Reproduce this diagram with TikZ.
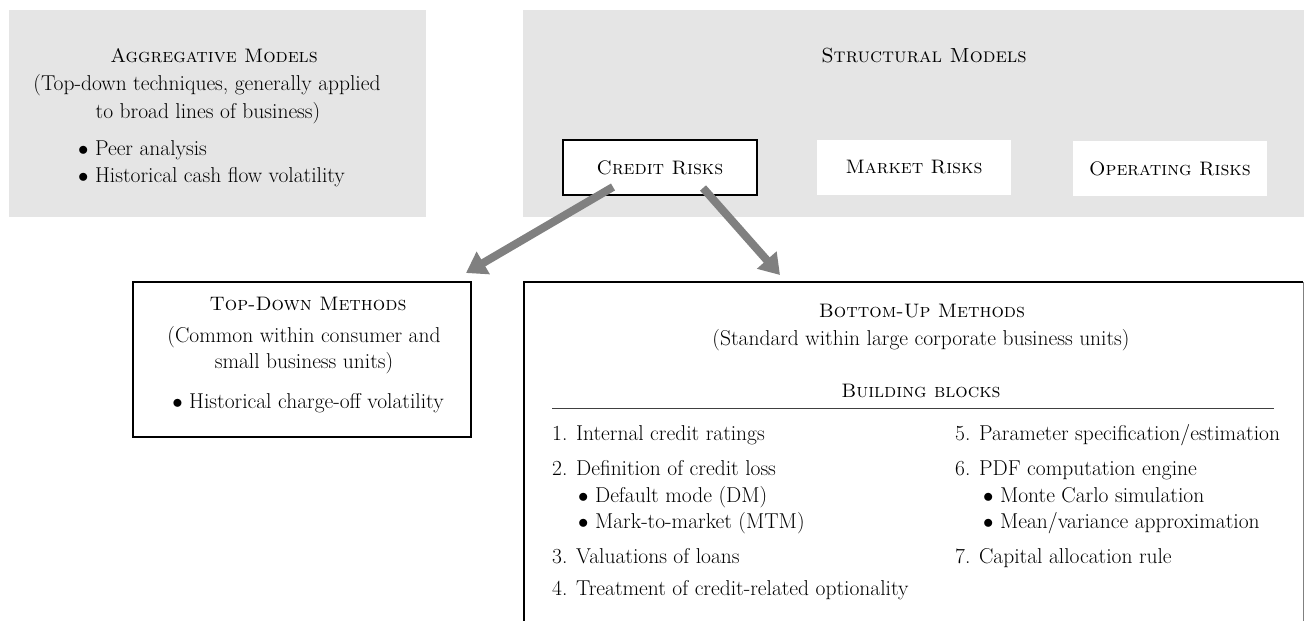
\documentclass[tikz,border=0pt]{standalone}
\usetikzlibrary{arrows.meta}
\definecolor{panelgray}{HTML}{E5E5E5}
\definecolor{arrowgray}{HTML}{808080}
\newcommand{\bodyfont}{\fontsize{21.5}{26}\selectfont}
\newcommand{\capfont}{\fontsize{19.5}{24}\selectfont\scshape}
\tikzset{
  panel/.style={fill=panelgray, draw=none},
  riskbox/.style={fill=white, draw=none, minimum width=194pt, minimum height=55pt, inner sep=0pt, font=\capfont},
  framed/.style={draw=black, line width=1.6pt},
  txt/.style={anchor=base, inner sep=0pt, font=\bodyfont},
  ltxt/.style={anchor=base west, inner sep=0pt, font=\bodyfont},
  sctxt/.style={anchor=base, inner sep=0pt, font=\capfont},
  bigarrow/.style={draw=arrowgray, line width=8pt, -{Triangle[length=20pt,width=25pt]}},
}
\begin{document}
\begin{tikzpicture}[x=1pt,y=-1pt]
\useasboundingbox (0,0) rectangle (1304,621);
% panels
\fill[panel] (9,10) rectangle (426,217);
\fill[panel] (523,10) rectangle (1304,217);
% aggregative text
\node[sctxt] (aggT) at (214,62) {Aggregative Models};
\node[txt] (aggS1) at (207,90) {(Top-down techniques, generally applied};
\node[txt] (aggS2) at (208,118) {to broad lines of business)};
\node[ltxt] (aggB1) at (78,155) {$\bullet$ Peer analysis};
\node[ltxt] (aggB2) at (78,182) {$\bullet$ Historical cash flow volatility};
% structural
\node[sctxt, font=\fontsize{20.4}{24}\selectfont\scshape] (strT) at (924,62) {Structural Models};
\node[riskbox, framed] (credit) at (660,167.5) {Credit Risks};
\node[riskbox] (market) at (914,167.5) {Market Risks};
\node[riskbox] (operating) at (1170,168.5) {Operating Risks};
% top-down box
\draw[framed] (133,282) rectangle (471,437);
\coordinate (tdTop) at (466,273);
\node[sctxt] (tdT) at (308,310) {Top-Down Methods};
\node[txt] (tdS1) at (304,342) {(Common within consumer and};
\node[txt] (tdS2) at (304,368) {small business units)};
\node[txt] (tdB) at (308,408) {$\bullet$ Historical charge-off volatility};
% bottom-up box
\draw[line width=1.6pt] (524,640) -- (524,282) -- (1303,282);
\draw[draw=gray, line width=0.8pt] (1303,282) -- (1303,640);
\coordinate (buTop) at (780,275);
\node[sctxt] (buT) at (922,317) {Bottom-Up Methods};
\node[txt] (buS) at (921,345) {(Standard within large corporate business units)};
\node[sctxt] (bbT) at (921,397) {Building blocks};
\draw[draw=black!75, line width=0.9pt] (552,408) -- (1274,408);
% left column
\node[ltxt] (i1) at (552,440) {1. Internal credit ratings};
\node[ltxt] (i2) at (552,475) {2. Definition of credit loss};
\node[ltxt] (i2a) at (578,502) {$\bullet$ Default mode (DM)};
\node[ltxt] (i2b) at (578,528) {$\bullet$ Mark-to-market (MTM)};
\node[ltxt] (i3) at (552,563) {3. Valuations of loans};
\node[ltxt] (i4) at (552,595) {4. Treatment of credit-related optionality};
% right column
\node[ltxt] (i5) at (955,440) {5. Parameter specification/estimation};
\node[ltxt] (i6) at (955,475) {6. PDF computation engine};
\node[ltxt] (i6a) at (983,502) {$\bullet$ Monte Carlo simulation};
\node[ltxt] (i6b) at (983,528) {$\bullet$ Mean/variance approximation};
\node[ltxt] (i7) at (955,563) {7. Capital allocation rule};
% arrows
\coordinate (cL) at (613,187);
\coordinate (cR) at (703,188);
\draw[bigarrow] (cL) -- (tdTop);
\draw[bigarrow] (cR) -- (buTop);
\end{tikzpicture}
\end{document}
